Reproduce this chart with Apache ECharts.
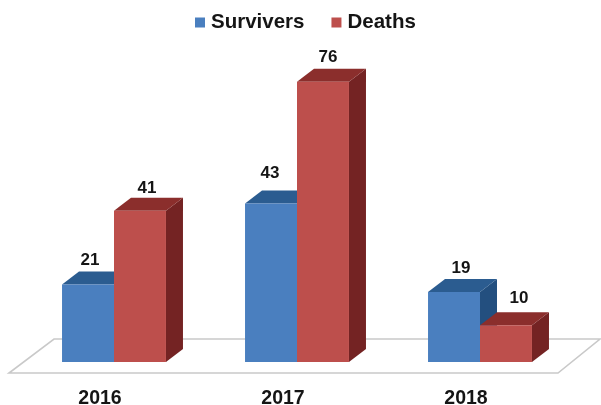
<!DOCTYPE html>
<html>
<head>
<meta charset="utf-8">
<style>html,body{margin:0;padding:0;background:#fff}#c{width:601px;height:405px}</style>
<script src="https://cdn.jsdelivr.net/npm/echarts@6/dist/echarts.min.js"></script>
</head>
<body>
<div id="c"></div>
<script>
var categories = ['2016', '2017', '2018'];
var survivers = [21, 43, 19];
var deaths = [41, 76, 10];

var DEPTH_X = 17, DEPTH_Y = 13, BAR_RATIO = 0.284;
var FONT = '"Liberation Sans", Arial, sans-serif';
// fine placement of each label relative to its bar: [dx, dy] by series, by category
var survLabelNudge = [[2, 0], [-1, -6], [7, 0]];
var deathLabelNudge = [[7, 1], [5, 0], [13, -3]];

function poly(points, fill) {
  return { type: 'polygon', shape: { points: points }, style: { fill: fill, stroke: null } };
}

function barRenderer(side, colors, nudge) {
  return function (params, api) {
    var idx = api.value(0);
    var val = api.value(1);
    var c = api.coord([idx, val]);
    var base = api.coord([idx, 0]);
    var w = api.size([1, 0])[0] * BAR_RATIO;
    var x0 = side < 0 ? c[0] - w : c[0];
    var x1 = x0 + w;
    var top = c[1], bot = base[1];
    var n = nudge[idx];
    return {
      type: 'group',
      children: [
        poly([[x1, top], [x1 + DEPTH_X, top - DEPTH_Y], [x1 + DEPTH_X, bot - DEPTH_Y], [x1, bot]], colors.side),
        poly([[x0, top], [x0 + DEPTH_X, top - DEPTH_Y], [x1 + DEPTH_X, top - DEPTH_Y], [x1, top]], colors.top),
        { type: 'rect', shape: { x: x0, y: top, width: w, height: bot - top }, style: { fill: colors.front } },
        { type: 'text', style: {
            text: String(val), x: (x0 + x1) / 2 + n[0], y: top - 24 + n[1],
            align: 'center', verticalAlign: 'middle',
            font: 'bold 17px ' + FONT, fill: '#151515'
        } }
      ]
    };
  };
}

function floorRenderer(params) {
  var g = params.coordSys;
  var b = g.y + g.height;
  return {
    type: 'polygon',
    shape: { points: [
      [g.x + 31.5, b - 23], [g.x + 577.5, b - 23],
      [g.x + 535.5, b + 11], [g.x - 13.5, b + 11]
    ] },
    style: { fill: '#fff', stroke: '#c9c9c9', lineWidth: 1.6 }
  };
}

var chart = echarts.init(document.getElementById('c'), null, { renderer: 'canvas' });
chart.setOption({
  animation: false,
  backgroundColor: '#fff',
  legend: {
    data: ['Survivers', 'Deaths'],
    top: 7, left: 190,
    icon: 'rect', itemWidth: 10, itemHeight: 10, itemGap: 27,
    textStyle: { fontFamily: FONT, fontWeight: 'bold', fontSize: 20.5, color: '#151515', padding: [0, 0, 0, 1] }
  },
  grid: { left: 22.5, right: 29.5, top: 67, bottom: 43, outerBoundsMode: 'none' },
  xAxis: {
    type: 'category', data: categories,
    axisLine: { show: false }, axisTick: { show: false },
    axisLabel: { fontFamily: FONT, fontWeight: 'bold', fontSize: 19.5, color: '#151515', margin: 27, padding: [0, 28, 0, 0] }
  },
  yAxis: { type: 'value', min: 0, max: 80, show: false },
  series: [
    { type: 'custom', name: 'floor', data: [0], renderItem: floorRenderer, silent: true, z: 1, clip: false },
    { type: 'custom', name: 'Survivers', data: survivers.map(function (v, i) { return [i, v]; }),
      encode: { x: 0, y: 1 }, itemStyle: { color: '#4a7fbf' }, z: 2, clip: false,
      renderItem: barRenderer(-1, { front: '#4a7fbf', top: '#2b5c90', side: '#234f7f' }, survLabelNudge) },
    { type: 'custom', name: 'Deaths', data: deaths.map(function (v, i) { return [i, v]; }),
      encode: { x: 0, y: 1 }, itemStyle: { color: '#bd4f4c' }, z: 3, clip: false,
      renderItem: barRenderer(1, { front: '#bd4f4c', top: '#8b2e2c', side: '#742323' }, deathLabelNudge) }
  ]
});
</script>
</body>
</html>
